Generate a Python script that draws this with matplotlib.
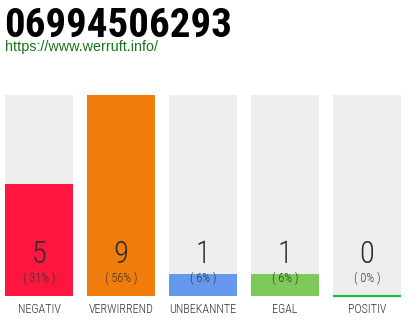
import matplotlib
matplotlib.use("Agg")
import matplotlib.pyplot as plt

# Data
title_text = "06994506293"
url_text = "https://www.werruft.info/"
categories = ["NEGATIV", "VERWIRREND", "UNBEKANNTE", "EGAL", "POSITIV"]
counts = [5, 9, 1, 1, 0]
percents = ["31%", "56%", "6%", "6%", "0%"]
colors = ["#ff163f", "#f07d0b", "#6699ee", "#7dc95a", "#22bb44"]

cond = ["Roboto Condensed", "Roboto", "DejaVu Sans"]

W, H = 410, 320
fig = plt.figure(figsize=(W / 100, H / 100), dpi=100)
fig.patch.set_facecolor("white")

# Title and url
fig.text(4 / W, 1 - 37 / H, title_text, family=cond, weight="bold",
         fontsize=29.5, color="black", va="baseline", ha="left")
fig.text(5 / W, 1 - 50.5 / H, url_text, family=["Liberation Sans", "DejaVu Sans"],
         fontsize=10.4, color="#1a751a", va="baseline", ha="left")

# Bars: 68 px wide, 82 px pitch, from x=5 to 401, y=95 to 296
bw = 68 / 82
half = 34 / 82
ax = fig.add_axes([5 / W, 24 / H, 396 / W, 201 / H])
ax.set_xlim(-half, len(categories) - 1 + half)
ymax = max(counts)
ax.set_ylim(0, ymax)
ax.axis("off")

x = list(range(len(categories)))
ax.bar(x, [ymax] * len(x), width=bw, color="#eeeeee", zorder=1)
ax.bar(x, counts, width=bw, color=colors, zorder=2)

for i, c in enumerate(counts):
    if c == 0:
        ax.plot([i - bw / 2, i + bw / 2], [0.006, 0.006], color=colors[i], lw=1.6,
                solid_capstyle="butt", zorder=3, clip_on=False)

for i, (c, p, lab) in enumerate(zip(counts, percents, categories)):
    xf = (5 + 34 + 82 * i) / W
    fig.text(xf, 1 - 263 / H, str(c), family=cond, weight="light",
             fontsize=22, color="#2b2b2b", ha="center", va="baseline")
    fig.text(xf, 1 - 278.5 / H, "( " + p + " )", family=cond, weight="light",
             fontsize=8.8, color="#333333", ha="center", va="center")
    fig.text(xf, 1 - 313 / H, lab, family=cond, weight="light",
             fontsize=8.7, color="#333333", ha="center", va="baseline")

fig.savefig("out.png", dpi=100)
